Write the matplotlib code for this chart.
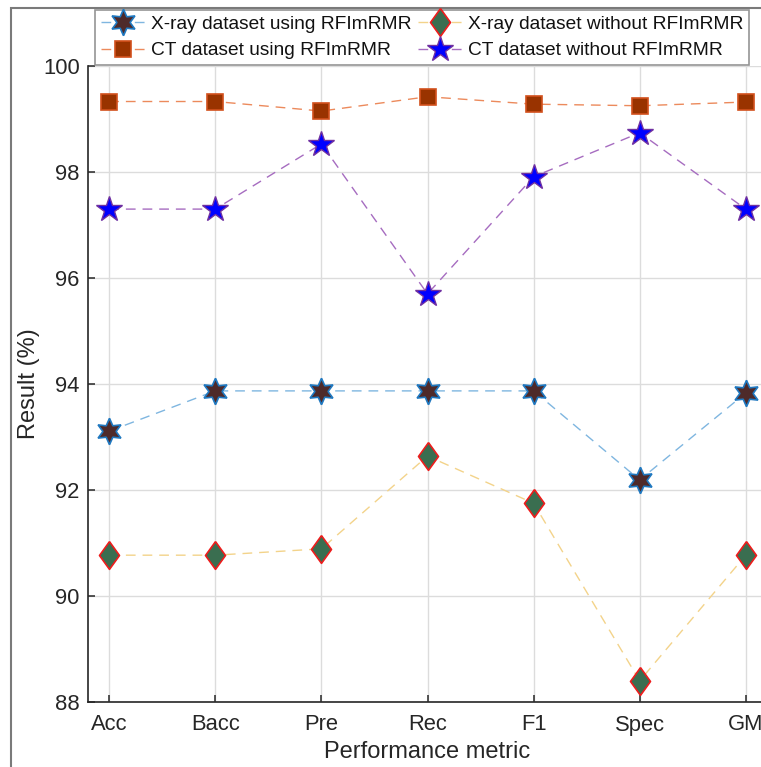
import matplotlib.pyplot as plt
from matplotlib.patches import Rectangle

plt.rcParams['font.family'] = ['Liberation Sans', 'DejaVu Sans']

metrics = ['Acc', 'Bacc', 'Pre', 'Rec', 'F1', 'Spec', 'GM']
xray_using = [93.11, 93.87, 93.87, 93.87, 93.87, 92.19, 93.83]
xray_without = [90.77, 90.77, 90.89, 92.64, 91.75, 88.40, 90.77]
ct_using = [99.33, 99.33, 99.15, 99.42, 99.28, 99.25, 99.32]
ct_without = [97.30, 97.30, 98.53, 95.70, 97.91, 98.74, 97.30]

W, H = 761, 767
fig = plt.figure(figsize=(W / 100, H / 100), dpi=100)
# outer frame of the original figure window
fig.patches.append(Rectangle((11 / W, -0.1), 1.2, 1.1 - 8 / H, transform=fig.transFigure,
                             fill=False, edgecolor='#7a7a7a', linewidth=1.5))

ax = fig.add_axes([88 / W, (H - 702) / H, (767 - 88) / W, 636 / H])
x = range(1, len(metrics) + 1)

diamond = [(0, 1), (0.72, 0), (0, -1), (-0.72, 0), (0, 1)]

ax.plot(x, xray_using, '--', color='#7fb6e0', lw=1, dashes=(7, 5),
        marker=(6, 1, 0), ms=19, mfc='#4e2a2a', mec='#1f78c0', mew=1.2,
        label='X-ray dataset using RFImRMR')
ax.plot(x, ct_using, '--', color='#ec8a5c', lw=1, dashes=(7, 5),
        marker='s', ms=12, mfc='#993300', mec='#d2501c', mew=1.2,
        label='CT dataset using RFImRMR')
ax.plot(x, xray_without, '--', color='#f3d38a', lw=1, dashes=(7, 5),
        marker=diamond, ms=20, mfc='#3a6e50', mec='#ee1c1c', mew=1.2,
        label='X-ray dataset without RFImRMR')
ax.plot(x, ct_without, '--', color='#a66cc0', lw=1, dashes=(7, 5),
        marker='*', ms=19, mfc='#0000ff', mec='#7030a0', mew=1,
        label='CT dataset without RFImRMR')

ax.set_xlim(0.8, 7.2)
ax.set_ylim(88, 100)
ax.set_xticks(list(x))
ax.set_xticklabels(metrics)
ax.set_yticks(range(88, 101, 2))
ax.grid(True, color='#dcdcdc', lw=1)
ax.set_axisbelow(True)
ax.spines['top'].set_visible(False)
ax.spines['right'].set_visible(False)
for s in ['left', 'bottom']:
    ax.spines[s].set_color('#262626')
    ax.spines[s].set_linewidth(1.2)
ax.tick_params(direction='in', length=5, width=1.1, labelsize=15.8,
               colors='#262626')
ax.tick_params(axis='y', pad=6)
ax.tick_params(axis='x', pad=9)
ax.set_xlabel('Performance metric', fontsize=17, color='#262626', labelpad=4)
ax.set_ylabel('Result (%)', fontsize=17, color='#262626', labelpad=2)

leg = fig.legend(loc='upper left', bbox_to_anchor=(95 / W, 1 - 10 / H),
                 ncol=2, fontsize=13.8, frameon=True, fancybox=False,
                 edgecolor='#7a7a7a', borderaxespad=0, handlelength=2.3,
                 handletextpad=0.3, columnspacing=0.35, labelspacing=0.45,
                 borderpad=0.3)
leg.get_frame().set_linewidth(1.2)
for t in leg.get_texts():
    t.set_color('#111111')

fig.savefig('out.png', dpi=100)
